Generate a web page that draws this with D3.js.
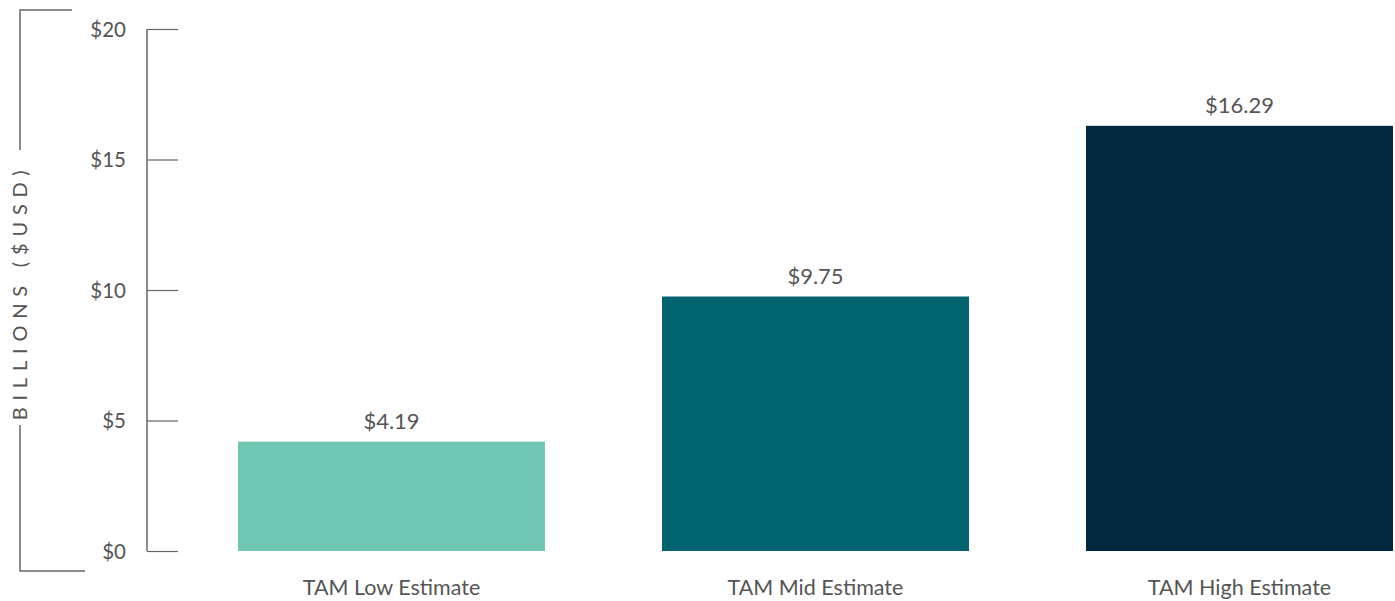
<!DOCTYPE html>
<html><head><meta charset="utf-8">
<script src="https://cdn.jsdelivr.net/npm/d3@7"></script>
<style>body{margin:0;background:#fff}svg{display:block}text{font-family:Lato,"Open Sans",sans-serif}</style>
</head><body>
<svg id="c" width="1395" height="601"></svg>
<script>
const categories = ["TAM Low Estimate", "TAM Mid Estimate", "TAM High Estimate"];
const values = [4.19, 9.75, 16.29];
const valueLabels = ["$4.19", "$9.75", "$16.29"];
const colors = ["#6fc7b3", "#01636f", "#00273d"];
const tickValues = [0, 5, 10, 15, 20];
const tickLabels = ["$0", "$5", "$10", "$15", "$20"];
const axisTitle = "BILLIONS ($USD)";

const svg = d3.select("#c");
const y = d3.scaleLinear().domain([0, 20]).range([551, 29]);
const x = d3.scaleBand().domain(categories).range([179.5, 1451.5]).paddingInner(0.276).paddingOuter(0.138);
const grey = "#666";

// y axis
const yAxis = d3.axisRight(y).tickValues(tickValues).tickSize(31).tickFormat((d, i) => tickLabels[i]);
const ga = svg.append("g").attr("transform", "translate(147,0)").call(yAxis);
ga.select(".domain").attr("stroke", grey).attr("stroke-width", 1.5).attr("d", `M0,${y(20)}V${y(0)}`);
ga.selectAll(".tick line").attr("stroke", grey).attr("stroke-width", 1.2);
ga.selectAll(".tick text").attr("x", -21).attr("text-anchor", "end").attr("dy", "0.35em")
  .attr("fill", "#555").attr("font-size", 20.5);

// bracket
const bx = 20, btop = 10, bbot = 571;
const br = svg.append("g").attr("stroke", grey).attr("stroke-width", 1.5).attr("fill", "none");
br.append("path").attr("d", `M72,${btop}H${bx}V150`);
br.append("path").attr("d", `M${bx},425V${bbot}H85`);
svg.append("text").attr("transform", `translate(${bx + 7},292) rotate(-90)`).attr("text-anchor", "middle")
  .attr("fill", "#555").attr("font-size", 20).attr("letter-spacing", "6.8px").text(axisTitle);

// bars
svg.selectAll("rect.bar").data(values).join("rect").attr("class", "bar")
  .attr("x", (d, i) => x(categories[i])).attr("width", x.bandwidth())
  .attr("y", d => y(d)).attr("height", d => y(0) - y(d)).attr("fill", (d, i) => colors[i]);

svg.selectAll("text.val").data(values).join("text").attr("class", "val")
  .attr("x", (d, i) => x(categories[i]) + x.bandwidth() / 2).attr("y", d => y(d) - 13)
  .attr("text-anchor", "middle").attr("fill", "#555").attr("font-size", 22).text((d, i) => valueLabels[i]);

svg.selectAll("text.cat").data(categories).join("text").attr("class", "cat")
  .attr("x", d => x(d) + x.bandwidth() / 2).attr("y", 595)
  .attr("text-anchor", "middle").attr("fill", "#555").attr("font-size", 21.5).text(d => d);
</script>
</body></html>
